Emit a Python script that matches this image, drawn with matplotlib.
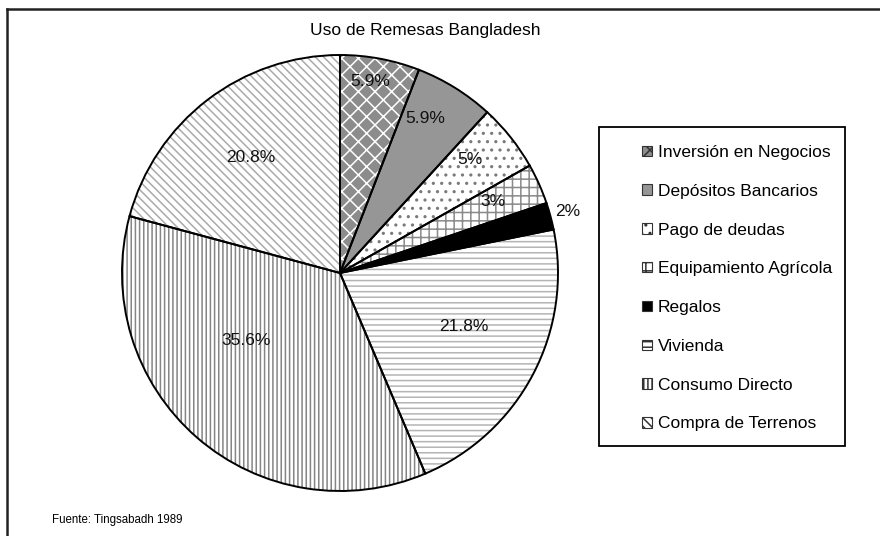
import numpy as np
import matplotlib
matplotlib.use('Agg')
import matplotlib.pyplot as plt
import matplotlib.patches as mpatches
from matplotlib.lines import Line2D

plt.rcParams['font.family'] = ['Liberation Sans', 'DejaVu Sans']
plt.rcParams['hatch.linewidth'] = 1.1

# data
categorias = ['Inversión en Negocios', 'Depósitos Bancarios', 'Pago de deudas',
              'Equipamiento Agrícola', 'Regalos', 'Vivienda', 'Consumo Directo',
              'Compra de Terrenos']
valores = [5.9, 5.9, 5, 3, 2, 21.8, 35.6, 20.8]
etiquetas = ['5.9%', '5.9%', '5%', '3%', '2%', '21.8%', '35.6%', '20.8%']

# fill style per slice: face, hatch, hatch colour
relleno = ['#8c8c8c', '#969696', 'white', 'white', 'black', 'white', 'white', 'white']
tramas = ['xx', None, '..', '++', None, '---', '||||', '\\\\\\\\']
color_trama = ['white', '#969696', '#7a7a7a', '#8a8a8a', 'black', '#b4b4b4', '#858585', '#aaaaaa']
# label placement: fraction of radius and angle nudge (deg) from the slice middle
dist_etiqueta = [0.89, 0.81, 0.79, 0.775, 1.08, 0.62, 0.53, 0.67]
giro_etiqueta = [1.8, 2.9, 2.5, 0.9, 0, 4.5, -13, 0]

W, H = 880, 536
fig = plt.figure(figsize=(W / 100, H / 100), dpi=100)

cx, cy, r = 340, 273, 218
ax = fig.add_axes([(cx - r) / W, (H - cy - r) / H, 2 * r / W, 2 * r / H])

# filled, hatched layer
wedges, _ = ax.pie(valores, startangle=90, counterclock=False, radius=1,
                   wedgeprops=dict(linewidth=0))
for w, fc, h, hc in zip(wedges, relleno, tramas, color_trama):
    w.set_facecolor(fc)
    w.set_edgecolor(hc)
    w.set_linewidth(0)
    if h:
        w.set_hatch(h)

# black outline layer
bordes, _ = ax.pie(valores, startangle=90, counterclock=False, radius=1,
                   wedgeprops=dict(fill=False, edgecolor='black', linewidth=1.4))

for w, txt, d, g in zip(wedges, etiquetas, dist_etiqueta, giro_etiqueta):
    ang = np.deg2rad((w.theta1 + w.theta2) / 2 + g)
    ax.text(d * np.cos(ang), d * np.sin(ang), txt, ha='center', va='center',
            fontsize=12.5, color='#111111')

ax.set_xlim(-1, 1)
ax.set_ylim(-1, 1)
ax.set_aspect('auto')
ax.axis('off')

fig.text(425 / W, 1 - 30 / H, 'Uso de Remesas Bangladesh', ha='center', va='center',
         fontsize=12.5)
fig.text(52 / W, 1 - 520 / H, 'Fuente: Tingsabadh 1989', ha='left', va='center',
         fontsize=8.3)

# legend box
caja = mpatches.Rectangle((599 / W, 1 - 446 / H), 246 / W, 319 / H,
                          transform=fig.transFigure, fill=False,
                          edgecolor='black', linewidth=1.3)
fig.patches.append(caja)

manejadores = []
for fc, h, hc in zip(relleno, tramas, color_trama):
    manejadores.append(mpatches.Patch(facecolor=fc, hatch=h, edgecolor='#333333',
                                      linewidth=0.8))
leg = fig.legend(manejadores, categorias, loc='upper left',
                 bbox_to_anchor=(642 / W, 1 - 145 / H), frameon=False,
                 fontsize=12.5, handlelength=0.55, handleheight=0.55,
                 handletextpad=0.35, labelspacing=1.37, borderaxespad=0,
                 borderpad=0)

# outer frame (top and left edges only)
fig.add_artist(Line2D([7 / W, 7 / W], [0, 1 - 9 / H], transform=fig.transFigure,
                      color='#222222', linewidth=1.8))
fig.add_artist(Line2D([7 / W, 1], [1 - 9 / H, 1 - 9 / H], transform=fig.transFigure,
                      color='#222222', linewidth=1.8))

fig.savefig('out.png', dpi=100)
